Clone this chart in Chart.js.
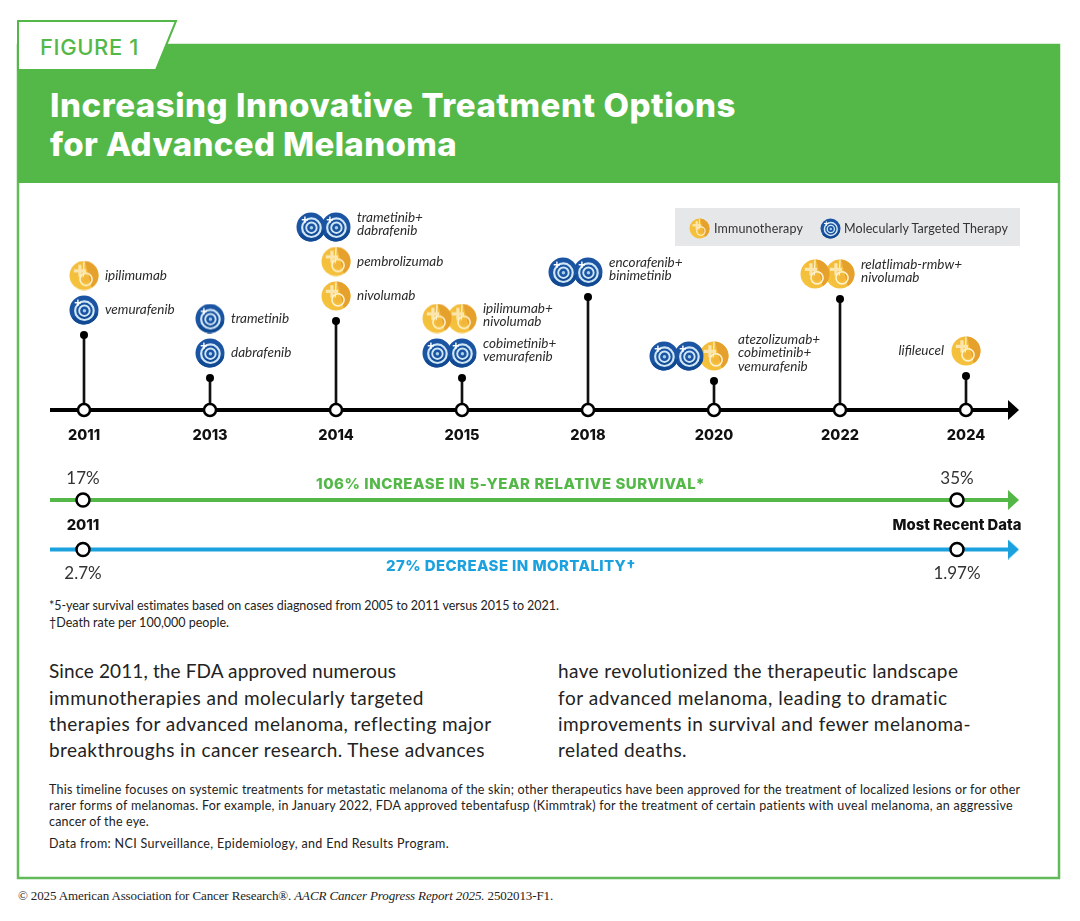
<!DOCTYPE html>
<html><head><meta charset="utf-8">
<script src="https://cdn.jsdelivr.net/npm/chart.js@4"></script>
<style>
html,body{margin:0;padding:0;background:#fff;width:1080px;height:921px;overflow:hidden}
#page{position:relative;width:1080px;height:921px;overflow:hidden}
.t{position:absolute;white-space:nowrap;transform:translateY(-50%);line-height:1.2}
canvas.c{position:absolute;left:0}
</style></head><body>
<div id="page">
<svg width="1080" height="921" style="position:absolute;left:0;top:0">
<rect x="18" y="45" width="1041" height="833" fill="#fff" stroke="#62bb5a" stroke-width="2.5"/>
<rect x="18" y="44" width="1042" height="139" fill="#54b848"/>
<polygon points="18,21 176,21 156,70 18,70" fill="#fff" stroke="#54b848" stroke-width="2"/>
<rect x="675" y="208" width="345" height="38" fill="#e6e7e8"/>
</svg>
<canvas class="c" id="timeline" width="1080" height="265" style="top:190px"></canvas>
<canvas class="c" id="outcomes" width="1080" height="130" style="top:460px"></canvas>
</div>
<script>
const years = ['2011','2013','2014','2015','2018','2020','2022','2024'];
const stemHeights = [75,32,89,32,113,29,111,34];
const eventKinds = [['M','I'],['M','M'],['I','I','MM'],['MM','II'],['MM'],['MMI'],['II'],['I']];
const eventLabels = [
 [['vemurafenib'],['ipilimumab']],
 [['dabrafenib'],['trametinib']],
 [['nivolumab'],['pembrolizumab'],['trametinib+','dabrafenib']],
 [['cobimetinib+','vemurafenib'],['ipilimumab+','nivolumab']],
 [['encorafenib+','binimetinib']],
 [['atezolizumab+','cobimetinib+','vemurafenib']],
 [['relatlimab-rmbw+','nivolumab']],
 [['lifileucel']]
];
const outcomeCategories = ['2011','Most Recent Data'];
const survivalLabels = ['17%','35%'];
const mortalityLabels = ['2.7%','1.97%'];
const legendLabels = ['Immunotherapy','Molecularly Targeted Therapy'];

const GREEN='#54b848', BLUE='#1ba1de', BODY='"Lato",sans-serif', HEAD='"Inter",sans-serif';

function cross(g,cx,cy,a,w){g.fillRect(cx-a,cy-w/2,2*a,w);g.fillRect(cx-w/2,cy-a,w,2*a);}
function iconTarget(size){
  const c=document.createElement('canvas');c.width=c.height=size;const g=c.getContext('2d');const m=size/2,r=size/2-0.5;
  g.fillStyle='#1a54a3';g.beginPath();g.arc(m,m,r,0,7);g.fill();
  g.fillStyle='#114a93';g.beginPath();g.arc(m,m,r,0.2,2.6);g.fill();
  g.strokeStyle='#cfe6f5';
  [[.64,.15],[.36,.13]].forEach(([k,w])=>{g.lineWidth=r*w;g.beginPath();g.arc(m+r*.03,m+r*.05,r*k,0,7);g.stroke();});
  g.fillStyle='#a9cfe9';g.beginPath();g.arc(m+r*.03,m+r*.05,r*.12,0,7);g.fill();
  g.fillStyle='#fff';cross(g,m-r*.42,m-r*.5,r*.22,r*.1);
  return c;
}
function iconImmune(size){
  const c=document.createElement('canvas');c.width=c.height=size;const g=c.getContext('2d');const m=size/2,r=size/2-0.5;
  const gr=g.createLinearGradient(0,size,size,0);gr.addColorStop(0,'#f6c53f');gr.addColorStop(1,'#f0b637');
  g.fillStyle=gr;g.beginPath();g.arc(m,m,r,0,7);g.fill();
  g.fillStyle='#e6a02c';g.beginPath();g.arc(m,m,r,-1.5,1.0);g.closePath();g.fill();
  g.strokeStyle='#fff2cf';g.lineWidth=r*.09;g.beginPath();g.moveTo(m,m-r*.95);g.lineTo(m-r*.05,m+r*.1);g.stroke();
  g.fillStyle='#fbe6ae';cross(g,m-r*.28,m-r*.32,r*.42,r*.22);
  g.strokeStyle='#fff2cf';g.lineWidth=r*.11;g.beginPath();g.arc(m+r*.14,m+r*.26,r*.42,0,7);g.stroke();
  g.fillStyle='#f3b53a';g.beginPath();g.arc(m+r*.14,m+r*.26,r*.2,0,7);g.fill();
  return c;
}
function iconArrow(color){
  const c=document.createElement('canvas');c.width=11;c.height=20;const g=c.getContext('2d');
  g.fillStyle=color;g.beginPath();g.moveTo(0,0);g.lineTo(11,10);g.lineTo(0,20);g.closePath();g.fill();return c;
}

// text blocks: every line is fitted to the width it has in the reference
const texts=[
 ['FIGURE 1',40,47,99,'500 22px '+HEAD,GREEN],
 ['Increasing Innovative Treatment Options',50,106,686,'800 33px '+HEAD,'#fff'],
 ['for Advanced Melanoma',50,145,407,'800 33px '+HEAD,'#fff'],
 [legendLabels[0],714,228,89,'400 12.5px '+BODY,'#333'],
 [legendLabels[1],844,227.5,164,'400 12.5px '+BODY,'#333'],
 ['106% INCREASE IN 5-YEAR RELATIVE SURVIVAL*',316,483.5,389,'800 15px '+HEAD,GREEN],
 ['27% DECREASE IN MORTALITY†',386,566,250,'800 15px '+HEAD,BLUE],
 ['*5-year survival estimates based on cases diagnosed from 2005 to 2011 versus 2015 to 2021.',49,605,510,'400 12.5px '+BODY,'#222'],
 ['†Death rate per 100,000 people.',49,622,180,'400 12.5px '+BODY,'#222'],
 ['Since 2011, the FDA approved numerous',49,671,347,'400 19px '+BODY,'#222'],
 ['immunotherapies and molecularly targeted',49,697.5,375,'400 19px '+BODY,'#222'],
 ['therapies for advanced melanoma, reflecting major',49,724,443,'400 19px '+BODY,'#222'],
 ['breakthroughs in cancer research. These advances',49,750,436,'400 19px '+BODY,'#222'],
 ['have revolutionized the therapeutic landscape',558,671,401,'400 19px '+BODY,'#222'],
 ['for advanced melanoma, leading to dramatic',558,697.5,390,'400 19px '+BODY,'#222'],
 ['improvements in survival and fewer melanoma-',558,724,413,'400 19px '+BODY,'#222'],
 ['related deaths.',558,750,129,'400 19px '+BODY,'#222'],
 ['This timeline focuses on systemic treatments for metastatic melanoma of the skin; other therapeutics have been approved for the treatment of localized lesions or for other',49,788.5,972,'400 12.5px '+BODY,'#222'],
 ['rarer forms of melanomas. For example, in January 2022, FDA approved tebentafusp (Kimmtrak) for the treatment of certain patients with uveal melanoma, an aggressive',49,804.5,964,'400 12.5px '+BODY,'#222'],
 ['cancer of the eye.',49,820.5,100,'400 12.5px '+BODY,'#222'],
 ['Data from: NCI Surveillance, Epidemiology, and End Results Program.',49,842.5,400,'400 12.5px '+BODY,'#222'],
 ['© 2025 American Association for Cancer Research®. <i>AACR Cancer Progress Report 2025.</i> 2502013-F1.',18,896,535,'400 13px "Liberation Serif",serif','#222']
];
const page=document.getElementById('page');
texts.forEach(([s,x,y,w,font,color])=>{
  const d=document.createElement('div');d.className='t';d.innerHTML=s;d.style.left=x+'px';d.style.top=y+'px';d.style.font=font;d.style.lineHeight='1.2';d.style.color=color;
  page.appendChild(d);
  const n=d.textContent.length;const cur=d.getBoundingClientRect().width;
  d.style.letterSpacing=((w-cur)/n).toFixed(3)+'px';
});
[[iconImmune,699],[iconTarget,830]].forEach(([f,x])=>{const c=f(21);c.style.cssText='position:absolute;top:217.5px;left:'+(x-10.5)+'px';page.appendChild(c);});

// timeline chart: x is the approval-year index, y is stem height above the axis
const PX_PER_STEP=126, ROW_GAP=34.5, FIRST_GAP=25, ICON_STEP=25;
const xMin=-34/PX_PER_STEP, xMax=935/PX_PER_STEP, arrowAt=929.5/PX_PER_STEP;
const targetPts=[], immunePts=[];
eventKinds.forEach((rows,i)=>rows.forEach((kinds,r)=>{
  const y=stemHeights[i]+FIRST_GAP+r*ROW_GAP;
  for(let k=kinds.length-1;k>=0;k--){
    const pt={x:i-(kinds.length-1-k)*ICON_STEP/PX_PER_STEP,y};
    (kinds[k]==='M'?targetPts:immunePts).push(pt);
  }
}));
const drugLabels={id:'drugLabels',afterDatasetsDraw(ch){
  const g=ch.ctx,X=ch.scales.x,Y=ch.scales.y;g.save();g.font='italic 400 13.5px "Lato",sans-serif';g.fillStyle='#2a2a2a';g.textBaseline='middle';
  eventLabels.forEach((rows,i)=>rows.forEach((lines,r)=>{
    const yv=stemHeights[i]+FIRST_GAP+r*ROW_GAP, maxK=eventKinds[i][r].length;
    const left=i===years.length-1;
    g.textAlign=left?'right':'left';
    const px=X.getPixelForValue(i)+(left?-22:(maxK===3?24:21));
    const cy=Y.getPixelForValue(yv)+(lines.length>1?-3:0);
    lines.forEach((s,l)=>g.fillText(s,px,cy+(l-(lines.length-1)/2)*13.2));
  }));
  g.restore();
}};
new Chart(document.getElementById('timeline'),{
  type:'bar',plugins:[drugLabels],
  data:{datasets:[
    {type:'line',label:'Approval year',showLine:false,clip:false,data:years.map((_,i)=>({x:i,y:0})),pointRadius:6,pointBorderWidth:2.5,pointBackgroundColor:'#fff',pointBorderColor:'#000'},
    {type:'line',label:'Axis',clip:false,data:[{x:xMin,y:0},{x:arrowAt,y:0}],borderColor:'#000',borderWidth:4,pointRadius:[0,8],pointStyle:iconArrow('#000')},
    {type:'line',label:'Stem top',showLine:false,clip:false,data:stemHeights.map((h,i)=>({x:i,y:h})),pointRadius:4,pointBackgroundColor:'#000',pointBorderWidth:0},
    {type:'bar',label:'Stem',data:stemHeights.map((h,i)=>({x:i,y:h})),barThickness:2,backgroundColor:'#111',clip:false},
    {type:'line',label:legendLabels[1],showLine:false,clip:false,data:targetPts,pointRadius:15,pointStyle:iconTarget(30)},
    {type:'line',label:legendLabels[0],showLine:false,clip:false,data:immunePts,pointRadius:15,pointStyle:iconImmune(30)}
  ]},
  options:{responsive:false,animation:false,events:[],
    layout:{autoPadding:false,padding:{left:50,right:61,top:0,bottom:0}},
    plugins:{legend:{display:false},tooltip:{enabled:false}},
    scales:{
      x:{type:'linear',offset:false,min:xMin,max:xMax,grid:{display:false,offset:false},border:{display:false},
        afterBuildTicks:s=>{s.ticks=years.map((_,i)=>({value:i}));},
        afterFit:s=>{s.height=45;},
        ticks:{autoSkip:false,maxRotation:0,padding:9,color:'#111',font:{family:'Inter',weight:'800',size:14.5},callback:v=>years[v]}},
      y:{display:false,min:0,max:220}
    }}
});

// outcomes chart: x runs from 2011 (0) to the most recent data (1), y is the row
const O_STEP=874, oMin=-33/O_STEP, oMax=936/O_STEP, oArrow=930.5/O_STEP, ROW_PX=49.5;
const rowLabels={id:'rowLabels',afterDatasetsDraw(ch){
  const g=ch.ctx,X=ch.scales.x,Y=ch.scales.y;g.save();g.font='400 17px "Lato",sans-serif';g.fillStyle='#333';g.textAlign='center';g.textBaseline='middle';
  survivalLabels.forEach((s,i)=>g.fillText(s,X.getPixelForValue(i),Y.getPixelForValue(1)-21));
  mortalityLabels.forEach((s,i)=>g.fillText(s,X.getPixelForValue(i),Y.getPixelForValue(0)+24));
  g.restore();
}};
const row=(label,v,color)=>({type:'line',label,clip:false,data:[{x:oMin,y:v},{x:oArrow,y:v}],borderColor:color,borderWidth:4,pointRadius:[0,8],pointStyle:iconArrow(color)});
const marks=(label,v)=>({type:'line',label,showLine:false,clip:false,data:[{x:0,y:v},{x:1,y:v}],pointRadius:6.5,pointBorderWidth:2.5,pointBackgroundColor:'#fff',pointBorderColor:'#000'});
new Chart(document.getElementById('outcomes'),{
  type:'line',plugins:[rowLabels],
  data:{datasets:[marks('Survival points',1),marks('Mortality points',0),row('5-year relative survival',1,GREEN),row('Mortality',0,BLUE)]},
  options:{responsive:false,animation:false,events:[],
    layout:{autoPadding:false,padding:{left:50,right:61,top:0,bottom:0}},
    plugins:{legend:{display:false},tooltip:{enabled:false}},
    scales:{
      x:{type:'linear',min:oMin,max:oMax,position:{y:0.5},grid:{display:false,drawTicks:false},border:{display:false},
        afterBuildTicks:s=>{s.ticks=outcomeCategories.map((_,i)=>({value:i}));},
        afterFit:s=>{s.height=0;},
        ticks:{autoSkip:false,maxRotation:0,padding:-8,color:'#111',font:{family:'Inter',weight:'800',size:14.8},callback:v=>outcomeCategories[v]}},
      y:{display:false,min:-40.5/ROW_PX,max:1+40/ROW_PX}
    }}
});
</script>
</body></html>
